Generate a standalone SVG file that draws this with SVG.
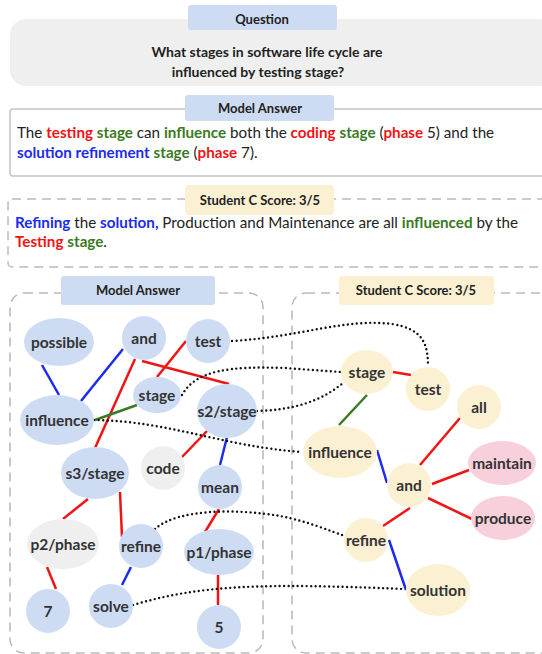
<svg xmlns="http://www.w3.org/2000/svg" width="542" height="654" viewBox="0 0 542 654">
  <style>
    .lbl { font-family: Lato, "Noto Sans", "DejaVu Sans", sans-serif; font-weight: bold; font-size: 13px; fill: #222; text-anchor: middle; }
    .body { font-family: Lato, "Noto Sans", "DejaVu Sans", sans-serif; font-size: 15.2px; fill: #222; }
    .r { fill: #f01414; font-weight: bold; }
    .g { fill: #3a7a22; font-weight: bold; }
    .b { fill: #1c2bf0; font-weight: bold; }
    .node text { font-family: Lato, "Noto Sans", "DejaVu Sans", sans-serif; font-weight: bold; font-size: 15.5px; fill: #333; text-anchor: middle; dominant-baseline: central; }
    .mb { fill: #cddcf3; }
    .sy { fill: #fcf0d3; }
    .gr { fill: #efefef; }
    .pk { fill: #f8d0dc; }
    .er { stroke: #f01414; stroke-width: 2.5; fill: none; }
    .eb { stroke: #1c2bf0; stroke-width: 2.5; fill: none; }
    .eg { stroke: #3a7a22; stroke-width: 2.5; fill: none; }
    .ed { stroke: #111; stroke-width: 2.4; fill: none; stroke-dasharray: 0 4.5; stroke-linecap: round; }
    .panel { fill: none; stroke: #bbbbbb; stroke-width: 1.6; stroke-dasharray: 9 6; }
  </style>

  <!-- Question -->
  <rect x="10" y="19" width="545" height="67" rx="16" fill="#efefef"/>
  <rect x="188" y="5" width="149" height="25" rx="3" fill="#cddcf3"/>
  <text class="lbl" x="262" y="24">Question</text>
  <text class="lbl" x="267" y="57" style="font-size:14px">What stages in software life cycle are</text>
  <text class="lbl" x="258" y="77" style="font-size:14px">influenced by testing stage?</text>

  <!-- Model answer text -->
  <rect x="10" y="109" width="545" height="67" rx="3" fill="#fff" stroke="#c4c4c4" stroke-width="1.5"/>
  <rect x="185" y="95" width="149" height="26" rx="3" fill="#cddcf3"/>
  <text class="lbl" x="260" y="113">Model Answer</text>
  <text class="body" x="17" y="138">The <tspan class="r">testing</tspan> <tspan class="g">stage</tspan> can <tspan class="g">influence</tspan> both the <tspan class="r">coding</tspan> <tspan class="g">stage</tspan> (<tspan class="r">phase</tspan> 5) and the</text>
  <text class="body" x="17" y="158"><tspan class="b">solution refinement</tspan> <tspan class="g">stage</tspan> (<tspan class="r">phase</tspan> 7).</text>

  <!-- Student answer text -->
  <rect x="8" y="199" width="550" height="68" rx="4" fill="#fff" stroke="#bbbbbb" stroke-width="1.5" stroke-dasharray="9 6"/>
  <rect x="185" y="185" width="149" height="30" rx="3" fill="#fcf0d3"/>
  <text class="lbl" x="260" y="205">Student C Score: 3/5</text>
  <text class="body" x="15" y="228"><tspan class="b">Refining</tspan> the <tspan class="b">solution,</tspan> Production and Maintenance are all <tspan class="g">influenced</tspan> by the</text>
  <text class="body" x="15" y="247"><tspan class="r">Testing</tspan> <tspan class="g">stage</tspan>.</text>

  <!-- Graph panels -->
  <rect class="panel" x="10" y="293" width="253" height="360" rx="14"/>
  <rect class="panel" x="292" y="293" width="262" height="360" rx="14"/>
  <rect x="61" y="276" width="154" height="29" rx="3" fill="#cddcf3"/>
  <text class="lbl" x="138" y="295">Model Answer</text>
  <rect x="339" y="276" width="155" height="29" rx="3" fill="#fcf0d3"/>
  <text class="lbl" x="416" y="295">Student C Score: 3/5</text>

  <!-- Connectors -->
  <g id="connectors">
    <!-- model answer graph -->
    <line class="eb" x1="42" y1="365" x2="59" y2="395"/>
    <line class="eb" x1="123" y1="349" x2="81" y2="401"/>
    <line class="er" x1="135" y1="359" x2="95" y2="448"/>
    <line class="er" x1="142" y1="361" x2="229" y2="384"/>
    <line class="er" x1="186" y1="341" x2="157" y2="377"/>
    <line class="eg" x1="137" y1="405" x2="95" y2="420"/>
    <line class="er" x1="207" y1="431" x2="182" y2="457"/>
    <line class="eb" x1="227" y1="437" x2="220" y2="465"/>
    <line class="er" x1="219" y1="509" x2="205" y2="532"/>
    <line class="er" x1="88" y1="499" x2="63" y2="519"/>
    <line class="er" x1="120" y1="492" x2="122" y2="537"/>
    <line class="er" x1="47" y1="567" x2="56" y2="589"/>
    <line class="eb" x1="131" y1="567" x2="122" y2="585"/>
    <line class="er" x1="218" y1="575" x2="218" y2="605"/>
    <!-- student graph -->
    <line class="er" x1="393" y1="372" x2="411" y2="375"/>
    <line class="eg" x1="367" y1="395" x2="339" y2="425"/>
    <line class="eb" x1="377" y1="450" x2="387" y2="483"/>
    <line class="er" x1="460" y1="418" x2="420" y2="465"/>
    <line class="er" x1="432" y1="484" x2="469" y2="470"/>
    <line class="er" x1="428" y1="498" x2="472" y2="519"/>
    <line class="er" x1="410" y1="508" x2="383" y2="526"/>
    <line class="eb" x1="389" y1="540" x2="406" y2="590"/>
    <!-- alignments between the two graphs -->
    <path class="ed" d="M232,341 C300,337 345,318 392,324 C424,329 428,345 428,367"/>
    <path class="ed" d="M182,395 C196,370 230,366 285,368 L341,372"/>
    <path class="ed" d="M257,411 C292,410 320,402 343,383"/>
    <path class="ed" d="M94,420 C170,421 220,446 302,452"/>
    <path class="ed" d="M155,529 C178,508 240,509 280,516 C310,522 330,531 345,536"/>
    <path class="ed" d="M133,605 C200,585 260,583 405,589"/>
  </g>

  <!-- Model answer nodes -->
  <g id="m-possible" class="node"><ellipse class="mb" cx="59" cy="342" rx="35" ry="24"/><text x="59" y="342">possible</text></g>
  <g id="m-and" class="node"><ellipse class="mb" cx="144" cy="338" rx="22" ry="22"/><text x="144" y="338">and</text></g>
  <g id="m-test" class="node"><ellipse class="mb" cx="208" cy="341" rx="22" ry="22"/><text x="208" y="341">test</text></g>
  <g id="m-stage" class="node"><ellipse class="mb" cx="157" cy="395" rx="24" ry="18"/><text x="157" y="395">stage</text></g>
  <g id="m-influence" class="node"><ellipse class="mb" cx="57" cy="420" rx="37" ry="25"/><text x="57" y="420">influence</text></g>
  <g id="m-s2-stage" class="node"><ellipse class="mb" cx="227" cy="411" rx="30" ry="27"/><text x="227" y="411">s2/stage</text></g>
  <g id="m-code" class="node"><ellipse class="gr" cx="163" cy="468" rx="22" ry="22"/><text x="163" y="468">code</text></g>
  <g id="m-s3-stage" class="node"><ellipse class="mb" cx="95" cy="473" rx="34" ry="26"/><text x="95" y="473">s3/stage</text></g>
  <g id="m-mean" class="node"><ellipse class="mb" cx="220" cy="487" rx="22" ry="22"/><text x="220" y="487">mean</text></g>
  <g id="m-p2-phase" class="node"><ellipse class="gr" cx="63" cy="544" rx="36" ry="25"/><text x="63" y="544">p2/phase</text></g>
  <g id="m-refine" class="node"><ellipse class="mb" cx="141" cy="546" rx="22" ry="22"/><text x="141" y="546">refine</text></g>
  <g id="m-p1-phase" class="node"><ellipse class="mb" cx="219" cy="552" rx="35" ry="23"/><text x="219" y="552">p1/phase</text></g>
  <g id="m-7" class="node"><ellipse class="mb" cx="48" cy="611" rx="22" ry="22"/><text x="48" y="611">7</text></g>
  <g id="m-solve" class="node"><ellipse class="mb" cx="111" cy="606" rx="22" ry="22"/><text x="111" y="606">solve</text></g>
  <g id="m-5" class="node"><ellipse class="mb" cx="219" cy="627" rx="22" ry="22"/><text x="219" y="627">5</text></g>

  <!-- Student nodes -->
  <g id="s-stage" class="node"><ellipse class="sy" cx="367" cy="372" rx="26" ry="22"/><text x="367" y="372">stage</text></g>
  <g id="s-test" class="node"><ellipse class="sy" cx="428" cy="389" rx="22" ry="22"/><text x="428" y="389">test</text></g>
  <g id="s-all" class="node"><ellipse class="sy" cx="479" cy="407" rx="22" ry="22"/><text x="479" y="407">all</text></g>
  <g id="s-influence" class="node"><ellipse class="sy" cx="340" cy="452" rx="37" ry="26"/><text x="340" y="452">influence</text></g>
  <g id="s-maintain" class="node"><ellipse class="pk" cx="502" cy="463" rx="34" ry="22"/><text x="502" y="463">maintain</text></g>
  <g id="s-and" class="node"><ellipse class="sy" cx="409" cy="485" rx="22" ry="22"/><text x="409" y="485">and</text></g>
  <g id="s-produce" class="node"><ellipse class="pk" cx="503" cy="518" rx="32" ry="22"/><text x="503" y="518">produce</text></g>
  <g id="s-refine" class="node"><ellipse class="sy" cx="366" cy="540" rx="22" ry="22"/><text x="366" y="540">refine</text></g>
  <g id="s-solution" class="node"><ellipse class="sy" cx="438" cy="590" rx="32" ry="26"/><text x="438" y="590">solution</text></g>
</svg>
